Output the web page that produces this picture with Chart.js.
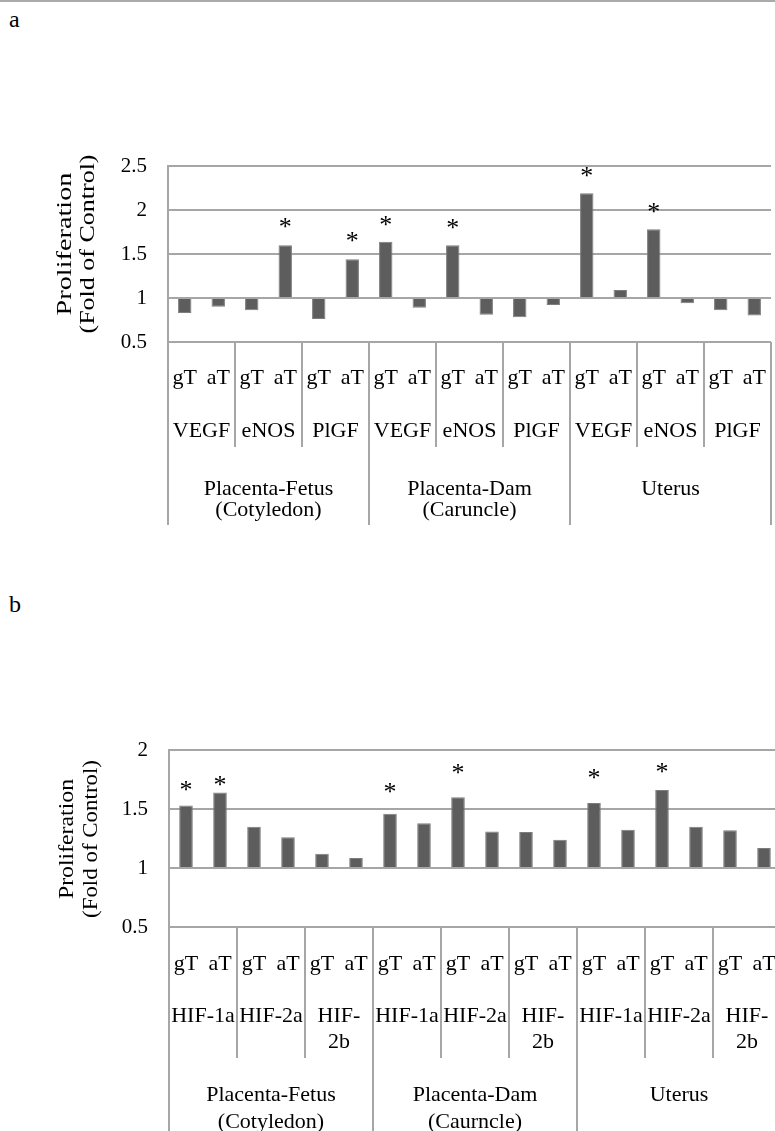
<!DOCTYPE html>
<html>
<head>
<meta charset="utf-8">
<script src="https://cdn.jsdelivr.net/npm/chart.js@4.4.0/dist/chart.umd.min.js"></script>
<style>
  html, body { margin: 0; padding: 0; background: #fff; }
  body { width: 775px; height: 1131px; overflow: hidden; position: relative; font-family: "Liberation Serif", serif; }
  .topline { position: absolute; left: 0; top: 0; width: 775px; height: 2px; background: #aaa; }
  .panel { position: absolute; left: 9px; font-size: 24px; line-height: 24px; color: #000; }
  canvas { position: absolute; left: 0; }
  #chartA { top: 140px; }
  #chartB { top: 720px; }
</style>
</head>
<body>
<div class="topline"></div>
<div class="panel" style="top:7px">a</div>
<div class="panel" style="top:592px">b</div>
<canvas id="chartA" width="775" height="390"></canvas>
<canvas id="chartB" width="790" height="411"></canvas>

<script>
// підписи під кожним стовпчиком
const tickLabels = ['gT', 'aT', 'gT', 'aT', 'gT', 'aT', 'gT', 'aT', 'gT', 'aT',
  'gT', 'aT', 'gT', 'aT', 'gT', 'aT', 'gT', 'aT'];

// графік a
const genesA = ['VEGF', 'eNOS', 'PlGF', 'VEGF', 'eNOS', 'PlGF', 'VEGF', 'eNOS', 'PlGF'];
const tissuesA = [['Placenta-Fetus', '(Cotyledon)'], ['Placenta-Dam', '(Caruncle)'], ['Uterus']];
const valuesA = [0.83, 0.90, 0.86, 1.60, 0.76, 1.44, 1.64, 0.89, 1.60, 0.81, 0.78, 0.92, 2.19, 1.09, 1.78, 0.94, 0.86, 0.80];
const starsA = [null, null, null, 1.81, null, 1.65, 1.83, null, 1.79, null, null, null, 2.39, null, 1.97, null, null, null];
const yTicksA = [0.5, 1, 1.5, 2, 2.5];

// графік b
const genesB = ['HIF-1a', 'HIF-2a', ['HIF-', '2b'], 'HIF-1a', 'HIF-2a', ['HIF-', '2b'], 'HIF-1a', 'HIF-2a', ['HIF-', '2b']];
const tissuesB = [['Placenta-Fetus', '(Cotyledon)'], ['Placenta-Dam', '(Caurncle)'], ['Uterus']];
const valuesB = [1.53, 1.64, 1.35, 1.26, 1.12, 1.085, 1.46, 1.38, 1.60, 1.31, 1.305, 1.24, 1.55, 1.325, 1.66, 1.35, 1.32, 1.17];
const starsB = [1.66, 1.70, null, null, null, null, 1.64, null, 1.80, null, null, null, 1.76, null, 1.81, null, null, null];
const yTicksB = [0.5, 1, 1.5, 2];

const yTitle = ['Proliferation', '(Fold of Control)'];

const lineColor = '#a6a6a6';
const barColor = '#5d5d5d';
const serif = '"Liberation Serif", "Times New Roman", serif';

// підписи груп, розділювачі, зірочки і назва осі
const groupAxis = {
  id: 'groupAxis',
  afterDatasetsDraw(chart, args, o) {
    const ctx = chart.ctx;
    const meta = chart.getDatasetMeta(0);
    const y = chart.scales.y;
    ctx.save();
    ctx.fillStyle = '#000';
    ctx.font = '26px ' + serif;
    ctx.textAlign = 'center';
    ctx.textBaseline = 'middle';
    o.stars.forEach((s, i) => {
      if (s == null) return;
      ctx.fillText('*', meta.data[i].x, y.getPixelForValue(s) + 1);
    });
    ctx.restore();
  },
  afterDraw(chart, args, o) {
    const ctx = chart.ctx;
    const x = chart.scales.x;
    const area = chart.chartArea;
    const n = chart.data.labels.length;
    const edge = i => i === 0 ? area.left : i === n ? area.right
      : (x.getPixelForValue(i - 1) + x.getPixelForValue(i)) / 2;
    const perTissue = o.genes.length / o.tissues.length;
    ctx.save();
    ctx.strokeStyle = lineColor;
    ctx.lineWidth = 2;
    for (let g = 0; g <= o.genes.length; g++) {
      const px = Math.round(edge(g * 2));
      const len = g % perTissue === 0 ? o.tissueBottom : o.geneBottom;
      ctx.beginPath();
      ctx.moveTo(px, area.bottom);
      ctx.lineTo(px, area.bottom + len);
      ctx.stroke();
    }
    ctx.fillStyle = '#000';
    ctx.font = '22px ' + serif;
    ctx.textAlign = 'center';
    ctx.textBaseline = 'alphabetic';
    o.genes.forEach((g, i) => {
      const cx = (edge(i * 2) + edge(i * 2 + 2)) / 2;
      [].concat(g).forEach((line, k) => ctx.fillText(line, cx, area.bottom + o.geneY[k]));
    });
    o.tissues.forEach((t, i) => {
      const span = perTissue * 2;
      const cx = (edge(i * span) + edge(i * span + span)) / 2;
      t.forEach((line, k) => ctx.fillText(line, cx, area.bottom + o.tissueY[k]));
    });
    // назва осі Y, розтягнута як в оригіналі
    ctx.textBaseline = 'middle';
    yTitle.forEach((line, k) => {
      ctx.save();
      ctx.translate(o.titleX[k], o.titleY);
      ctx.rotate(-Math.PI / 2);
      const w = ctx.measureText(line).width;
      ctx.scale(o.titleLen[k] / w, 1);
      ctx.fillText(line, 0, 0);
      ctx.restore();
    });
    ctx.restore();
  }
};

function makeChart(id, values, yTicks, cfg) {
  return new Chart(document.getElementById(id), {
    type: 'bar',
    data: {
      labels: tickLabels,
      datasets: [{
        data: values,
        base: 1,
        backgroundColor: barColor,
        borderColor: '#7d7d7d',
        borderWidth: 1,
        barPercentage: 0.4,
        categoryPercentage: 1
      }]
    },
    options: {
      responsive: false,
      animation: false,
      layout: { padding: cfg.padding },
      plugins: {
        legend: { display: false },
        tooltip: { enabled: false },
        groupAxis: cfg.group
      },
      scales: {
        x: {
          grid: { display: false },
          border: { display: false },
          ticks: { color: '#000', font: { family: serif, size: 22 }, padding: cfg.tickPad, maxRotation: 0, autoSkip: false },
          afterFit: s => {
            s.height = cfg.xHeight;
            s.paddingLeft = 0;
            s.paddingRight = 0;
          }
        },
        y: {
          min: yTicks[0],
          max: yTicks[yTicks.length - 1],
          afterBuildTicks: s => { s.ticks = yTicks.map(v => ({ value: v })); },
          grid: { color: lineColor, lineWidth: 2, drawTicks: false },
          border: { display: true, color: lineColor, width: 2 },
          ticks: { color: '#000', font: { family: serif, size: 21 }, padding: 21, callback: v => String(v) },
          afterFit: s => {
            s.width = cfg.yWidth;
            s.paddingTop = 0;
            s.paddingBottom = 0;
          }
        }
      }
    },
    plugins: [groupAxis]
  });
}

makeChart('chartA', valuesA, yTicksA, {
  padding: { top: 26, right: 4, left: 0, bottom: 0 },
  yWidth: 168,
  xHeight: 188,
  tickPad: 15,
  group: {
    genes: genesA, tissues: tissuesA, stars: starsA,
    geneY: [95], tissueY: [153, 174],
    geneBottom: 105, tissueBottom: 183,
    titleX: [65, 88], titleY: 104, titleLen: [143, 179]
  }
});

makeChart('chartB', valuesB, yTicksB, {
  padding: { top: 30, right: 9, left: 0, bottom: 0 },
  yWidth: 169,
  xHeight: 204,
  tickPad: 16,
  group: {
    genes: genesB, tissues: tissuesB, stars: starsB,
    geneY: [95, 121], tissueY: [174, 201],
    geneBottom: 131, tissueBottom: 204,
    titleX: [67, 91], titleY: 119, titleLen: [120, 158]
  }
});
</script>
</body>
</html>
